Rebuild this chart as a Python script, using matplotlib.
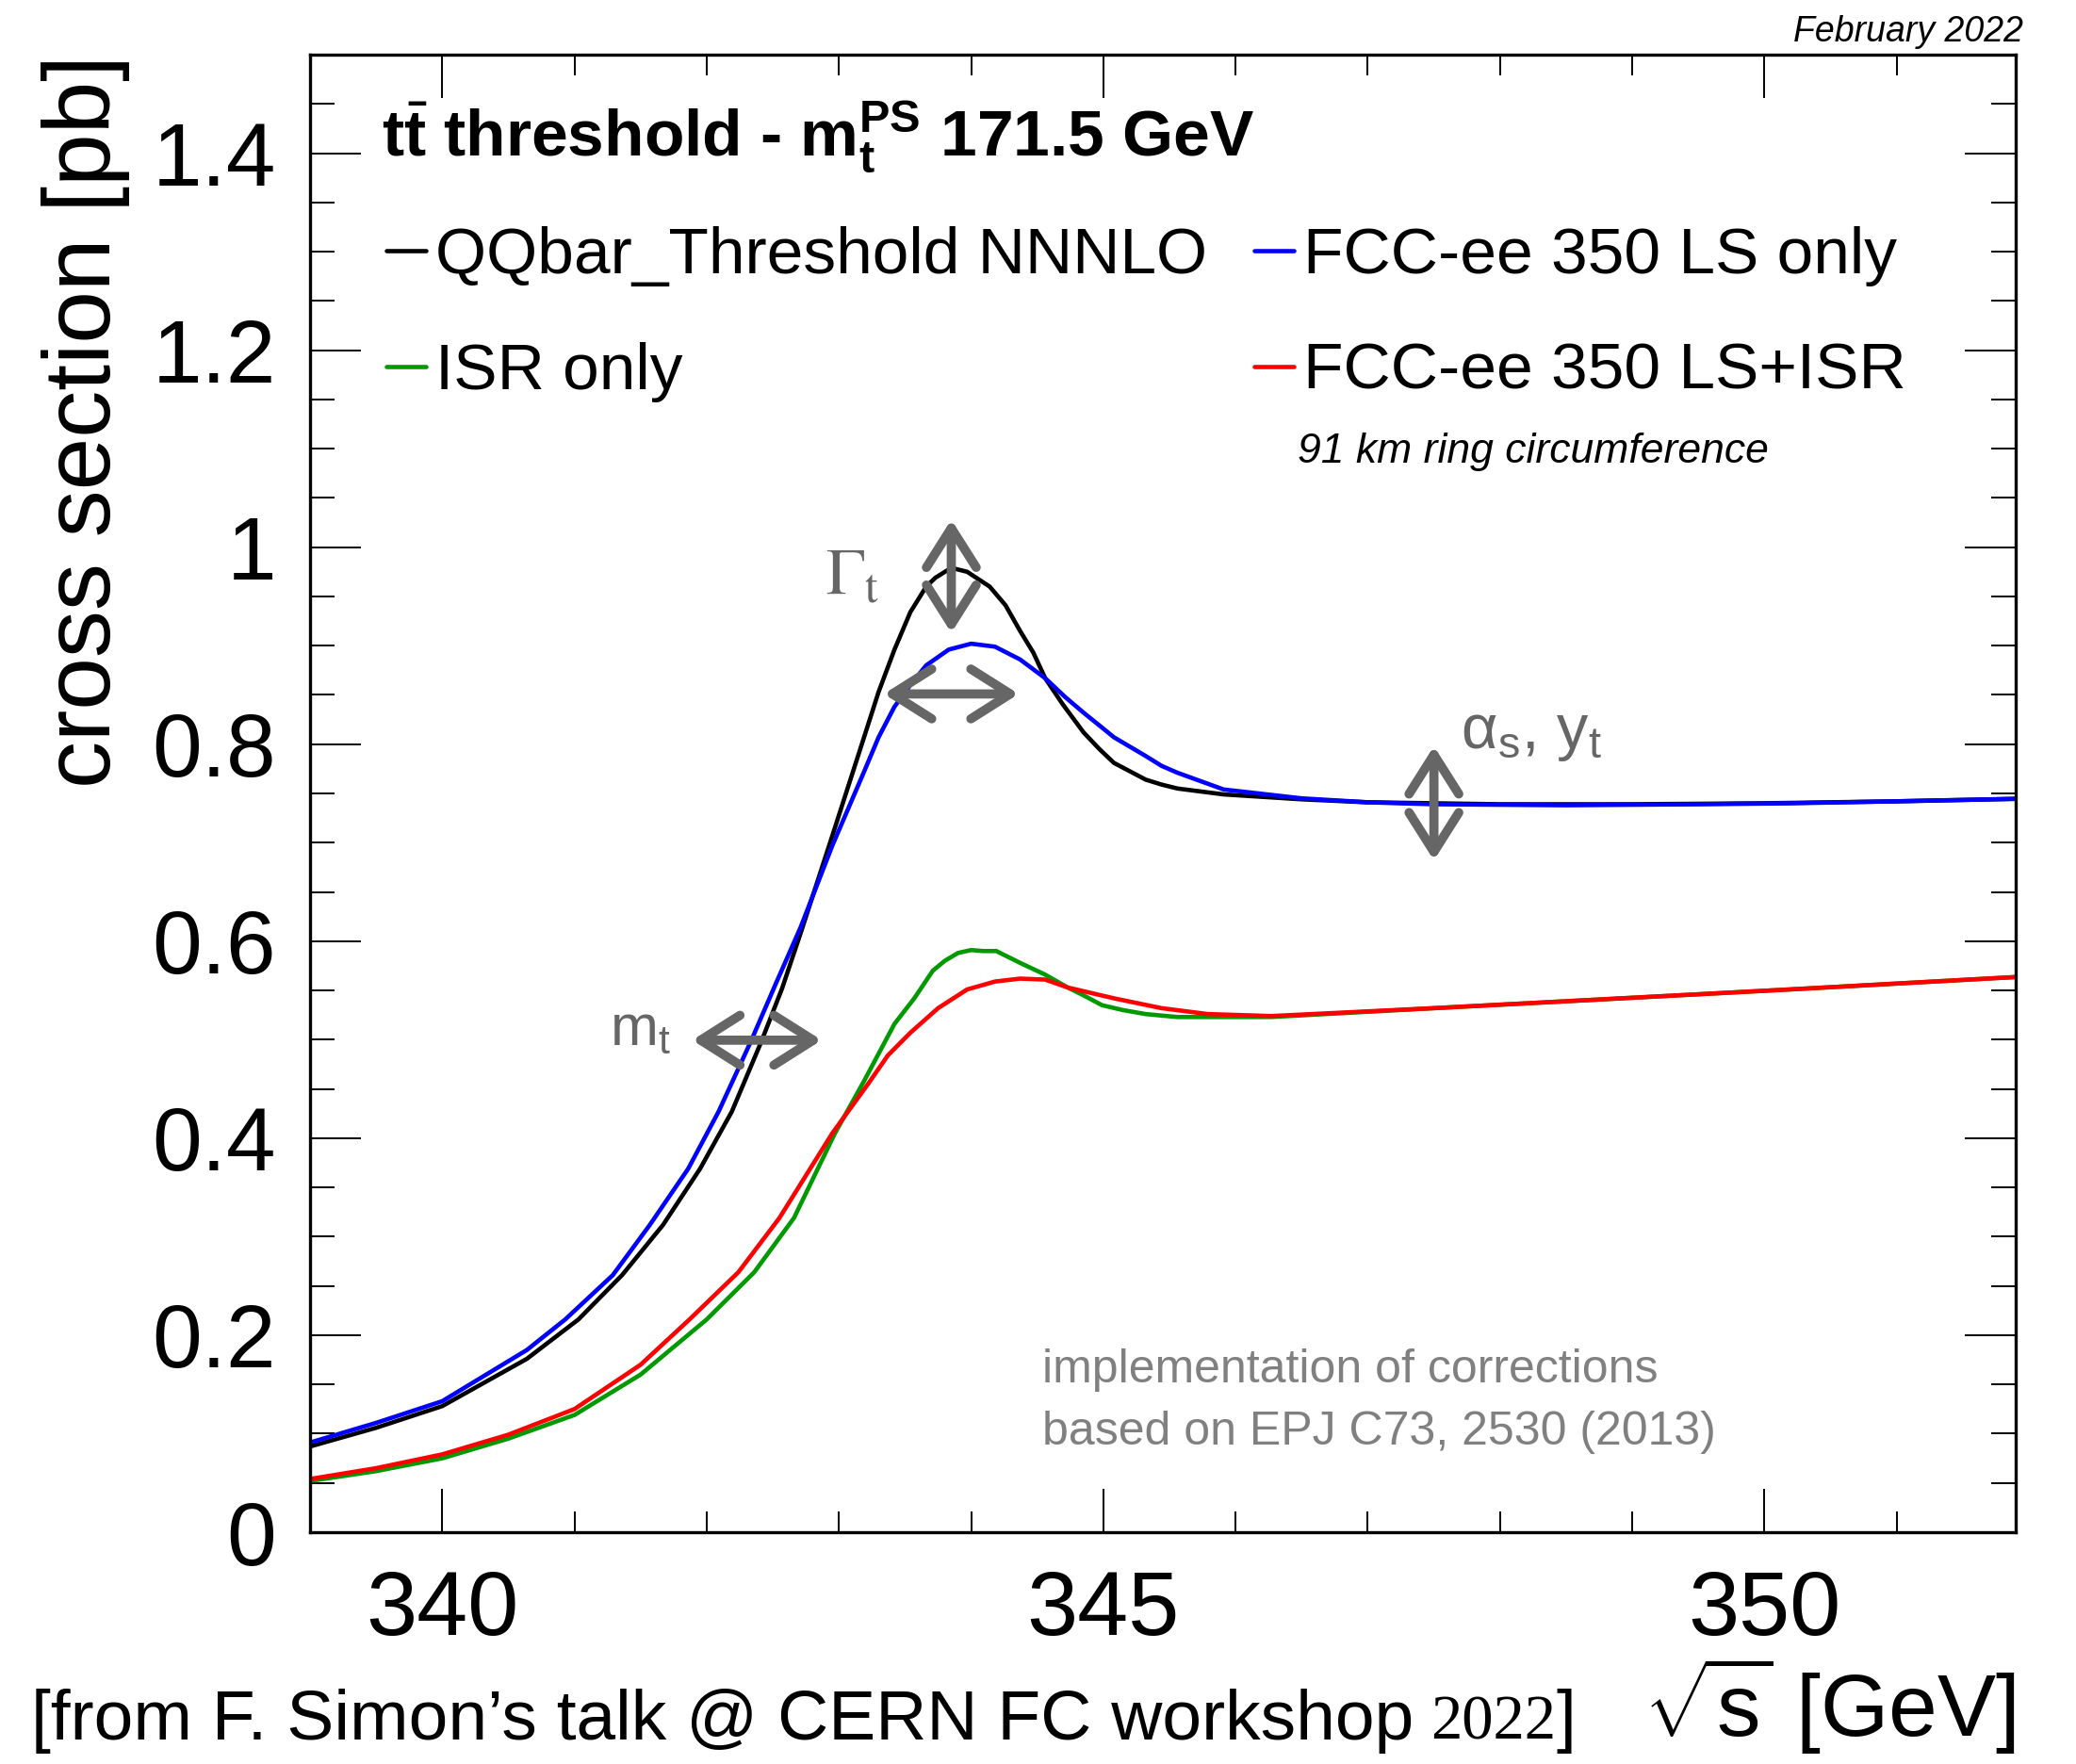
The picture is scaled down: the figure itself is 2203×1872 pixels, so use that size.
import numpy as np
import matplotlib
matplotlib.use('Agg')
import matplotlib.pyplot as plt
from matplotlib.ticker import MultipleLocator, FuncFormatter

# ---------------- data ----------------
nnnlo_x = [339.0, 339.5, 340.0, 340.64, 341.03, 341.36, 341.67, 341.95, 342.19, 342.41,
           342.57, 342.71, 342.95, 343.19, 343.30, 343.42, 343.54, 343.66, 343.73, 343.85,
           343.97, 344.14, 344.26, 344.37, 344.47, 344.56, 344.69, 344.85, 344.97, 345.08,
           345.32, 345.44, 345.56, 345.91, 346.5, 347.0, 348.0, 349.0, 350.0, 351.0, 351.9]
nnnlo_y = [0.087, 0.106, 0.128, 0.176, 0.216, 0.261, 0.312, 0.369, 0.427, 0.497,
           0.552, 0.608, 0.707, 0.807, 0.853, 0.896, 0.934, 0.960, 0.969, 0.979,
           0.975, 0.960, 0.941, 0.915, 0.893, 0.867, 0.841, 0.812, 0.795, 0.781,
           0.764, 0.759, 0.755, 0.749, 0.744, 0.741, 0.739, 0.739, 0.740, 0.742, 0.7445]

ls_x = [339.0, 339.5, 340.0, 340.64, 340.93, 341.29, 341.57, 341.86, 342.09, 342.33,
        342.52, 342.71, 342.95, 343.19, 343.30, 343.42, 343.54, 343.66, 343.83, 344.0,
        344.18, 344.37, 344.56, 344.71, 344.85, 344.97, 345.08, 345.32, 345.44, 345.56,
        345.91, 346.5, 347.0, 347.5, 348.5, 349.5, 350.2, 351.0, 351.9]
ls_y = [0.091, 0.111, 0.133, 0.185, 0.216, 0.261, 0.312, 0.369, 0.427, 0.497,
        0.556, 0.614, 0.697, 0.772, 0.807, 0.838, 0.860, 0.880, 0.896, 0.902,
        0.899, 0.886, 0.867, 0.848, 0.832, 0.819, 0.807, 0.788, 0.778, 0.771,
        0.754, 0.745, 0.741, 0.739, 0.738, 0.739, 0.740, 0.742, 0.7445]

isr_x = [339.0, 339.5, 340.0, 340.5, 341.0, 341.5, 342.0, 342.36, 342.66, 342.97,
         343.19, 343.42, 343.57, 343.71, 343.80, 343.90, 344.0, 344.09, 344.19, 344.37,
         344.56, 344.73, 344.85, 344.99, 345.15, 345.32, 345.56, 345.79, 346.27, 347.5,
         348.64, 350.19, 351.9]
isr_y = [0.052, 0.062, 0.075, 0.095, 0.119, 0.160, 0.216, 0.264, 0.319, 0.405,
         0.458, 0.516, 0.542, 0.570, 0.580, 0.588, 0.591, 0.590, 0.590, 0.578,
         0.566, 0.553, 0.545, 0.535, 0.530, 0.526, 0.523, 0.523, 0.523, 0.532,
         0.540, 0.551, 0.5636]

lsisr_x = [339.0, 339.5, 340.0, 340.5, 341.0, 341.5, 341.87, 342.24, 342.55, 342.95,
           343.22, 343.37, 343.54, 343.75, 343.97, 344.18, 344.37, 344.56, 344.73, 345.08,
           345.44, 345.79, 346.27, 347.5, 348.64, 350.19, 351.9]
lsisr_y = [0.054, 0.065, 0.079, 0.099, 0.125, 0.170, 0.216, 0.264, 0.319, 0.405,
           0.455, 0.484, 0.507, 0.532, 0.551, 0.559, 0.562, 0.561, 0.553, 0.542,
           0.532, 0.526, 0.524, 0.532, 0.540, 0.551, 0.5636]

series_labels = ["QQbar_Threshold NNNLO", "ISR only", "FCC-ee 350 LS only", "FCC-ee 350 LS+ISR"]
x_major_ticks = [340, 345, 350]
y_major_ticks = [0, 0.2, 0.4, 0.6, 0.8, 1.0, 1.2, 1.4]

# annotation anchor points (data coords)
gamma_arrow = ((343.85, 0.913), (343.85, 1.028))
width_arrow = ((343.34, 0.851), (344.36, 0.851))
mt_arrow = ((341.89, 0.4995), (342.87, 0.4995))
as_arrow = ((347.5, 0.682), (347.5, 0.798))

# ---------------- style ----------------
plt.rcParams['font.family'] = ['Liberation Sans', 'DejaVu Sans']
plt.rcParams['mathtext.fontset'] = 'custom'
plt.rcParams['mathtext.rm'] = 'Liberation Sans'
plt.rcParams['mathtext.it'] = 'Liberation Sans:italic'
plt.rcParams['mathtext.bf'] = 'Liberation Sans:bold'

W, H = 2203, 1872
fig = plt.figure(figsize=(W / 100, H / 100), dpi=100)
ax = fig.add_axes([329 / W, 1 - 1626 / H, (2139 - 329) / W, (1626 - 58) / H])

lw = 3.3
kw = dict(lw=lw, solid_joinstyle='round', solid_capstyle='round')
l1, = ax.plot(nnnlo_x, nnnlo_y, color='black', label=series_labels[0], **kw)
l3, = ax.plot(ls_x, ls_y, color='#0000ff', label=series_labels[2], **kw)
l2, = ax.plot(isr_x, isr_y, color='#009900', label=series_labels[1], **kw)
l4, = ax.plot(lsisr_x, lsisr_y, color='#ff0000', label=series_labels[3], **kw)

ax.set_xlim(339.0, 351.9)
ax.set_ylim(0, 1.5)
ax.set_xticks(x_major_ticks)
ax.set_yticks(y_major_ticks)
ax.xaxis.set_minor_locator(MultipleLocator(1))
ax.yaxis.set_minor_locator(MultipleLocator(0.05))
ax.yaxis.set_major_formatter(FuncFormatter(lambda v, p: f"{v:g}"))
ax.tick_params(which='both', direction='in', top=True, right=True, width=1.4)
ax.tick_params(axis='y', which='major', length=39, labelsize=68, pad=26)
ax.tick_params(axis='y', which='minor', length=19)
ax.tick_params(axis='x', which='major', length=33, labelsize=70, pad=28)
ax.tick_params(axis='x', which='minor', length=16)
for s in ax.spines.values():
    s.set_linewidth(2.4)

ax.set_ylabel("cross section [pb]", fontsize=72, loc='top')
ax.yaxis.set_label_coords((138 - 329) / 1810, 1.0)
ax.set_xlabel(r"$\sqrt{\mathrm{s}}$ [GeV]", fontsize=67, loc='right')
ax.xaxis.set_label_coords(1.0, -0.083)

# title
ax.text(0.042, 0.931, r"$\mathbf{t}\bar{\mathbf{t}}$ threshold - m$_\mathbf{t}^\mathbf{PS}$ 171.5 GeV",
        transform=ax.transAxes, fontsize=50, fontweight='bold', va='baseline', ha='left')

leg = ax.legend(handles=[l1, l2, l3, l4], ncol=2, loc='upper left',
                bbox_to_anchor=(0.0448, 0.884), frameon=False, fontsize=50,
                handlelength=0.6, handletextpad=0.15, columnspacing=0.72,
                labelspacing=0.85, borderpad=0, borderaxespad=0)

ax.text((1377 - 329) / 1810, (1626 - 480) / 1568, "91 km ring circumference",
        transform=ax.transAxes, fontsize=32, style='italic', va='center', ha='left')
fig.text(2147 / W, 1 - 34 / H, "February 2022", fontsize=27, style='italic',
         ha='right', va='center')

gray_t = '#808080'
ax.text((1106 - 329) / 1810, (1626 - 1454) / 1568, "implementation of corrections",
        transform=ax.transAxes, fontsize=36, color=gray_t, va='center', ha='left')
ax.text((1106 - 329) / 1810, (1626 - 1520) / 1568, "based on EPJ C73, 2530 (2013)",
        transform=ax.transAxes, fontsize=36, color=gray_t, va='center', ha='left')

# arrows
ag = '#666666'
astyle = '<->,head_length=3.0,head_width=1.9'
for (p0, p1) in [gamma_arrow, width_arrow, mt_arrow, as_arrow]:
    ax.annotate('', xy=p1, xytext=p0,
                arrowprops=dict(arrowstyle=astyle, lw=7, color=ag,
                                shrinkA=0, shrinkB=0, mutation_scale=10))

ax.text(343.1, 0.97, r"$\Gamma_\mathrm{t}$", fontsize=50, color=ag, math_fontfamily='stix',
        ha='center', va='center')
ax.text(341.5, 0.51, r"m$_\mathrm{t}$", fontsize=44, color=ag, ha='center', va='center')
ax.text(347.70, 0.81, "\u03b1$_\\mathrm{s}$, y$_\\mathrm{t}$", fontsize=48, color=ag,
        ha='left', va='center')

# bottom credit text
fig.canvas.draw()
r = fig.canvas.get_renderer()
yb = 1 - 1846 / H
t3 = fig.text(1672 / W, yb, "]", fontsize=54, ha='right', va='baseline')
bb3 = t3.get_window_extent(r)
t2 = fig.text(bb3.x0 / W, yb, "2022", fontsize=48, family='Liberation Serif', ha='right', va='baseline')
bb2 = t2.get_window_extent(r)
t1 = fig.text((bb2.x0 - 18) / W, yb, "[from F. Simon\u2019s talk @ CERN FC workshop", fontsize=54,
              ha='right', va='baseline')
bb1 = t1.get_window_extent(r)
if bb1.x0 < 2:
    t1.set_fontsize(54 * (bb2.x0 - 18 - 4) / (bb1.x1 - bb1.x0))

fig.savefig('out.png', dpi=100)
